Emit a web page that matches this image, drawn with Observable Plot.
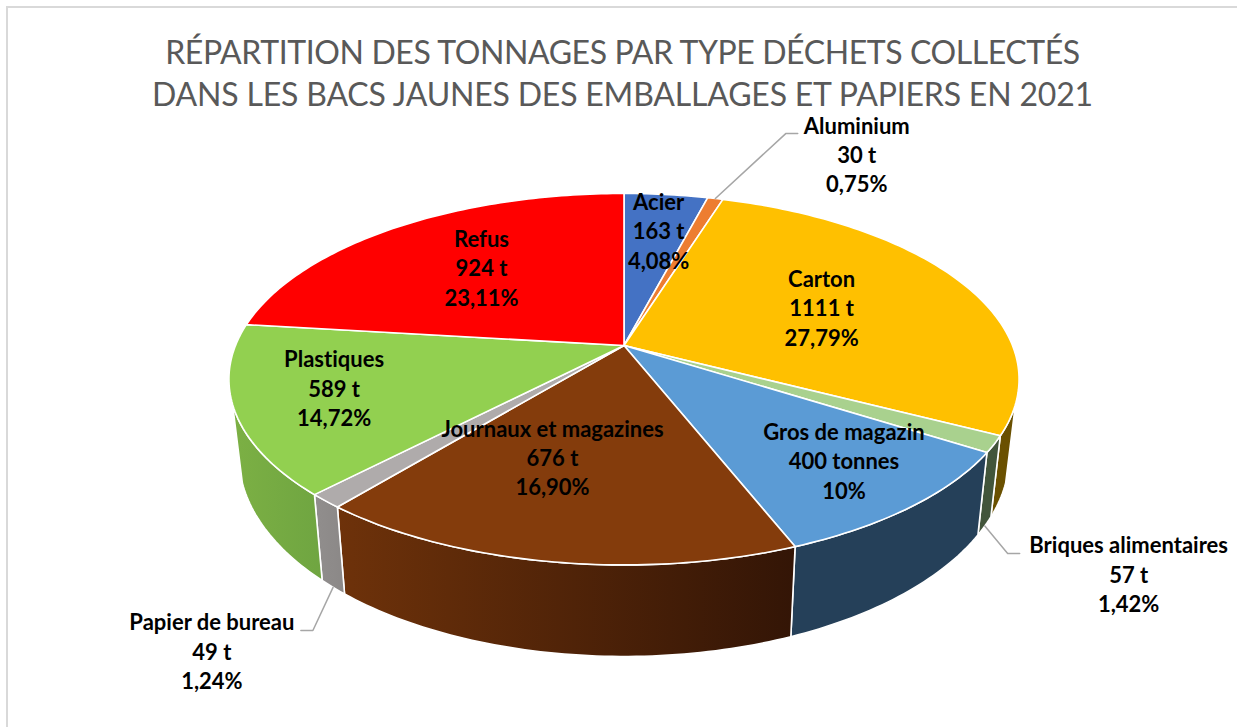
<!DOCTYPE html>
<html lang="fr">
<head>
<meta charset="utf-8">
<script src="https://cdn.jsdelivr.net/npm/d3@7"></script>
<script src="https://cdn.jsdelivr.net/npm/@observablehq/plot@0.6"></script>
<style>
html,body{margin:0;padding:0;background:#fff;overflow:hidden;width:1237px;height:727px}
#page{position:relative;width:1237px;height:727px}
#frame{position:absolute;left:6px;top:6px;right:0;bottom:0;border-top:2px solid #d9d9d9;border-left:2px solid #d9d9d9;pointer-events:none}
#title{height:108px;box-sizing:border-box;padding:35px 0 0 8px;text-align:center;font:32px/34px Lato,sans-serif;color:#595959}
#title div{white-space:nowrap;margin-bottom:8px}
svg{display:block}
svg text{font-variant-ligatures:none;font-feature-settings:"liga" 0}
</style>
</head>
<body>
<div id="page">
<div id="frame"></div>
<div id="title"></div>
<div id="chart"></div>
</div>
<script>
const titleLines = ["RÉPARTITION DES TONNAGES PAR TYPE DÉCHETS COLLECTÉS", "DANS LES BACS JAUNES DES EMBALLAGES ET PAPIERS EN 2021"];
const categories = ["Acier", "Aluminium", "Carton", "Briques alimentaires", "Gros de magazin", "Journaux et magazines", "Papier de bureau", "Plastiques", "Refus"];
const percents = [4.08, 0.75, 27.79, 1.42, 10, 16.90, 1.24, 14.72, 23.11];
const tonnageLabels = ["163 t", "30 t", "1111 t", "57 t", "400 tonnes", "676 t", "49 t", "589 t", "924 t"];
const percentLabels = ["4,08%", "0,75%", "27,79%", "1,42%", "10%", "16,90%", "1,24%", "14,72%", "23,11%"];
const topColors = ["#4472c4", "#ed7d31", "#ffc000", "#a9d18e", "#5b9bd5", "#843c0c", "#afabab", "#92d050", "#ff0000"];

// View of the tilted pie (styles/layout, not data)
const W = 1237, H = 619, TOP = 108;
const cx = 623.5, cy = 345, A = 388.5, B = 179.6, P = 0.1815;
const wallScale = 0.975, wallStretch = 1.08, wallDrop = 74 / B;
const wallFrom = 108, wallTo = 252;
const titleSpacing = [-0.4, -0.19];
const wallFills = [null, null,
  ["#6a5000", "#6a5000"], ["#42553b", "#42553b"], ["#254059", "#254059"],
  ["#6e320a", "#331506"], ["#918e8d", "#8b8887"], ["#7cb044", "#6fa541"], null];
const labelRadius = [0.72, 1.3, 0.57, 1.4, 0.75, 0.572, 1.3, 0.696, 0.62];
const labelShift = [[3, 0], [119, -7], [1, 1], [-35, 86], [13, 0], [-33, 0], [-5, 95], [-24, 0], [5, 0]];
const labelLift = -2;
const leaders = [null, {plane: "plate", elbow: [-71, -22], end: [-59, -22]}, null,
  {plane: "base", elbow: [-121, -22], end: [-109, -22]}, null, null,
  {plane: "base", elbow: [101, -22], end: [89, -22]}, null, null];

const rad = d => d * Math.PI / 180;
// Perspective projection of a point of the pie plate, in pie-radius units
function platePoint(deg, r = 1) {
  const s = r * Math.sin(rad(deg)), c = r * Math.cos(rad(deg)), k = 1 + P * c;
  return {x: s / k, y: c / k};
}
function basePoint(deg, r = 1) {
  const p = platePoint(deg, r);
  return {x: p.x * wallScale, y: p.y * wallStretch - wallDrop};
}
const arcs = d3.pie().sort(null).value(d => d)(percents).map(a => ({
  from: a.startAngle * 180 / Math.PI,
  to: a.endAngle * 180 / Math.PI
}));
const steps = (a, b) => { const out = []; const n = Math.max(1, Math.ceil((b - a))); for (let i = 0; i <= n; i++) out.push(a + (b - a) * i / n); return out; };

const topRows = [], wallRows = [];
categories.forEach((name, i) => {
  const {from, to} = arcs[i];
  const ring = steps(from, to).map(d => platePoint(d));
  [{x: 0, y: 0}, ...ring, {x: 0, y: 0}].forEach(p => topRows.push({...p, name, fill: topColors[i]}));
  const a = Math.max(from, wallFrom), b = Math.min(to, wallTo);
  if (wallFills[i] && b > a) {
    const t = steps(a, b);
    const poly = [...t.map(d => platePoint(d)), ...t.slice().reverse().map(d => basePoint(d))];
    poly.push(poly[0]);
    poly.forEach(p => wallRows.push({...p, name, fill: `url(#wall${i})`}));
  }
});

const xOf = px => (px - cx) / A, yOf = py => (cy - py) / B;
const labels = categories.map((name, i) => {
  const mid = (arcs[i].from + arcs[i].to) / 2;
  const p = platePoint(mid, labelRadius[i]);
  return {i, mid, x: p.x, y: p.y, text: `${name}\n${tonnageLabels[i]}\n${percentLabels[i]}`, shift: labelShift[i]};
});
const leaderRows = [];
labels.forEach(l => {
  const spec = leaders[l.i];
  if (!spec) return;
  const s = spec.plane === "plate" ? platePoint(l.mid) : basePoint(l.mid);
  const lx = l.x + l.shift[0] / A, ly = l.y - l.shift[1] / B;
  [s,
   {x: lx + spec.elbow[0] / A, y: ly - spec.elbow[1] / B},
   {x: lx + spec.end[0] / A, y: ly - spec.end[1] / B}
  ].forEach(p => leaderRows.push({...p, name: categories[l.i]}));
});

const svg = Plot.plot({
  width: W, height: H,
  margin: 0,
  style: {background: "transparent", overflow: "visible"},
  x: {domain: [xOf(0), xOf(W)], range: [0, W], axis: null},
  y: {domain: [yOf(TOP + H), yOf(TOP)], range: [H, 0], axis: null},
  color: {type: "identity"},
  marks: [
    Plot.line(wallRows, {x: "x", y: "y", z: "name", fill: "fill", stroke: "#fff", strokeWidth: 1.6, curve: "linear"}),
    Plot.line(topRows, {x: "x", y: "y", z: "name", fill: "fill", stroke: "#fff", strokeWidth: 1.6, curve: "linear"}),
    Plot.line(leaderRows, {x: "x", y: "y", z: "name", stroke: "#a6a6a6", strokeWidth: 1.5, curve: "linear"}),
    ...labels.map(l => Plot.text([l], {
      x: "x", y: "y", text: "text", dx: l.shift[0], dy: l.shift[1] + labelLift,
      fontFamily: "Lato, sans-serif", fontWeight: 700, fontSize: 22,
      lineHeight: 1.34, fill: "#000", textAnchor: "middle", lineAnchor: "middle"
    }))
  ]
});

const defs = d3.select(svg).insert("defs", ":first-child");
wallFills.forEach((stops, i) => {
  if (!stops) return;
  const g = defs.append("linearGradient").attr("id", `wall${i}`);
  g.append("stop").attr("offset", "0%").attr("stop-color", stops[0]);
  g.append("stop").attr("offset", "100%").attr("stop-color", stops[1]);
});

titleLines.forEach((line, i) => {
  const row = document.createElement("div");
  row.textContent = line;
  row.style.letterSpacing = titleSpacing[i] + "px";
  document.getElementById("title").appendChild(row);
});
document.getElementById("chart").appendChild(svg);
</script>
</body>
</html>
